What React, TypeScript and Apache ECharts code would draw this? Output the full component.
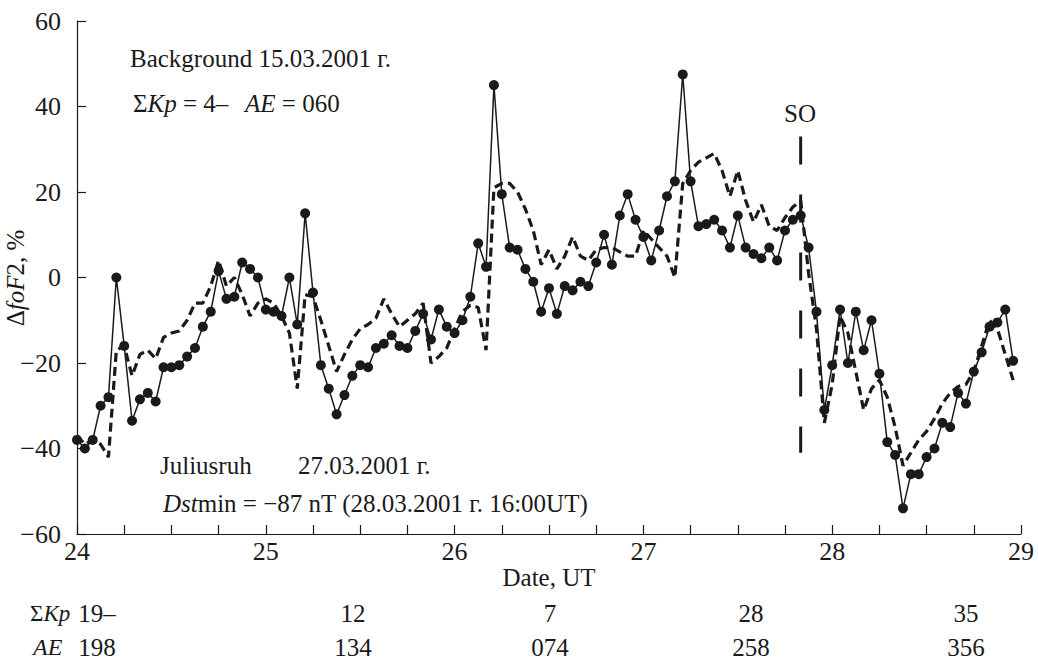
import React, { useEffect, useRef } from "react";
import * as echarts from "echarts";

// Hourly ΔfoF2 (%) at Juliusruh, 24.03–28.03.2001, starting 24 00 UT
const stormValues: number[] = [
  -38, -40, -38, -30, -28, 0, -16, -33.5, -28.5, -27, -29, -21, -21, -20.5, -18.5, -16.5, -11.5, -8, 1.5, -5, -4.5, 3.5, 2, 0,
  -7.5, -8, -9, 0, -11, 15, -3.5, -20.5, -26, -32, -27.5, -23, -20.5, -21, -16.5, -15.5, -13.5, -16, -16.5, -12.5, -8.5, -14.5, -7.5, -11.5,
  -13, -10, -4.5, 8, 2.5, 45, 19.5, 7, 6.5, 2, -1, -8, -2.5, -8.5, -2, -3, -1, -2, 3.5, 10, 3, 14.5, 19.5, 13.5,
  9.5, 4, 11, 19, 22.5, 47.5, 22.5, 12, 12.5, 13.5, 11, 7, 14.5, 7, 5.5, 4.5, 7, 4, 11, 13.5, 14.5, 7, -8, -31,
  -20.5, -7.5, -20, -8, -17, -10, -22.5, -38.5, -41.5, -54, -46, -46, -42, -40, -34, -35, -27, -29.5, -22, -17.5, -11.5, -10.5, -7.5, -19.5,
];

// Background day 15.03.2001, hourly
const backgroundValues: number[] = [
  -37, -39, -38, -39, -42, -17, -16, -23, -18, -17, -19, -14, -13, -12.5, -10, -6, -6, -2, 4, -2, 0, -4, -9, -6,
  -5, -6, -9, -13, -26, -4, -4.5, -10, -16, -22, -18, -14.5, -12, -11, -9.5, -5, -8.5, -11.5, -10, -8.5, -6, -20, -18.5, -16.5,
  -12, -8, -6.5, -7, -17, 21, 22, 22, 20, 16, 11, 3, 6.5, 2, 5, 9.5, 5, 4, 6.5, 7, 7, 6, 5, 5,
  11, 9, 7, 5, 0, 22, 25, 27, 28, 29, 25, 19, 25, 18, 13, 17, 12, 11, 14, 16.5, 18, 1, -12, -34,
  -25, -9, -13, -22, -31, -26, -24, -28, -35, -44, -41, -38, -36, -33, -29.5, -27, -25.5, -25, -22, -16, -10, -12, -18, -24,
];

const startDay = 24;
const xTicks = { min: 24, max: 29, step: 1 };
const yTicks = { min: -60, max: 60, step: 20 };

// Storm onset (SO) marker
const soDay = 27.833;
const soRange = [33, -41];

// Daily indices table
const kpValues = ["19–", "12", "7", "28", "35"];
const aeValues = ["198", "134", "074", "258", "356"];

const FONT = '"Liberation Serif", "Times New Roman", serif';
const FS = 25;
const TICK_FS = 26;
const INK = "#1a1a1a";

export default function App() {
  const ref = useRef<HTMLDivElement>(null);

  useEffect(() => {
    if (!ref.current) return;
    const chart = echarts.init(ref.current, undefined, { renderer: "svg" });

    const toXY = (vals: number[]) => vals.map((v, i) => [startDay + i / 24, v]);

    const makeRich = (fs: number) => ({
      n: { fontFamily: FONT, fontSize: fs, fill: INK, color: INK },
      i: { fontFamily: FONT, fontSize: fs, fontStyle: "italic", fill: INK, color: INK },
    });

    const txt = (x: number, y: number, text: string, align: string = "left", extra: any = {}, fs: number = FS) => ({
      type: "text",
      x,
      y,
      ...extra,
      style: {
        text,
        rich: makeRich(fs),
        fontFamily: FONT,
        fontSize: fs,
        fill: INK,
        align,
        verticalAlign: "middle",
      },
    });

    const kpCenters = [97, 353, 550, 751, 966];

    const graphic: any[] = [
      txt(130, 58, "{n|Background 15.03.2001 г.}"),
      txt(133, 103, "{n|Σ}{i|Kp}{n| = 4–}"),
      txt(245, 103, "{i|AE}{n| = 060}"),
      txt(800, 113, "{n|SO}", "center"),
      txt(160, 465, "{n|Juliusruh}"),
      txt(298, 465, "{n|27.03.2001 г.}"),
      txt(163, 503, "{i|Dst}{n|min = −87 nT (28.03.2001 г. 16:00UT)}"),
      txt(549, 577, "{n|Date, UT}", "center"),
      txt(15, 278, "{n|Δ}{i|foF}{n|2, %}", "center", { rotation: Math.PI / 2 }),
      txt(30, 613, "{n|Σ}{i|Kp}", "left", {}, 23),
      txt(33, 647, "{i|AE}", "left", {}, 24),
    ];
    kpValues.forEach((k, idx) => graphic.push(txt(kpCenters[idx], 613, `{n|${k}}`, "center")));
    aeValues.forEach((a, idx) => graphic.push(txt(kpCenters[idx], 647, `{n|${a}}`, "center")));

    chart.setOption({
      animation: false,
      backgroundColor: "#ffffff",
      grid: { left: 77, right: 17, top: 21, bottom: 133 },
      xAxis: {
        type: "value",
        min: xTicks.min,
        max: xTicks.max,
        interval: xTicks.step,
        axisLine: { onZero: false, lineStyle: { color: INK, width: 1.2 } },
        axisTick: { inside: true, length: 9, lineStyle: { color: INK, width: 1.2 } },
        minorTick: { show: true, splitNumber: 4, length: 9, lineStyle: { color: INK, width: 1.2 } },
        splitLine: { show: false },
        minorSplitLine: { show: false },
        axisLabel: { color: INK, fontFamily: FONT, fontSize: TICK_FS, margin: 4 },
      },
      yAxis: {
        type: "value",
        min: yTicks.min,
        max: yTicks.max,
        interval: yTicks.step,
        axisLine: { show: true, onZero: false, lineStyle: { color: INK, width: 1.2 } },
        axisTick: { show: true, inside: true, length: 9, lineStyle: { color: INK, width: 1.2 } },
        splitLine: { show: false },
        axisLabel: {
          color: INK,
          fontFamily: FONT,
          fontSize: TICK_FS,
          margin: 16,
          formatter: (v: number) => (v < 0 ? "−" + Math.abs(v) : String(v)),
        },
      },
      series: [
        {
          type: "line",
          name: "background",
          data: toXY(backgroundValues),
          showSymbol: false,
          symbol: "none",
          lineStyle: { color: INK, width: 3.2, type: [9, 5] },
          z: 2,
        },
        {
          type: "line",
          name: "storm",
          data: toXY(stormValues),
          symbol: "circle",
          symbolSize: 10,
          itemStyle: { color: INK },
          lineStyle: { color: INK, width: 1.5 },
          z: 3,
        },
        {
          type: "line",
          name: "SO",
          data: [
            [soDay, soRange[0]],
            [soDay, soRange[1]],
          ],
          symbol: "none",
          lineStyle: { color: INK, width: 3, type: [28, 30] },
          z: 4,
        },
      ],
      graphic,
    });

    return () => chart.dispose();
  }, []);

  return <div ref={ref} style={{ width: 1038, height: 667, position: "absolute", left: 0, top: 0 }} />;
}
